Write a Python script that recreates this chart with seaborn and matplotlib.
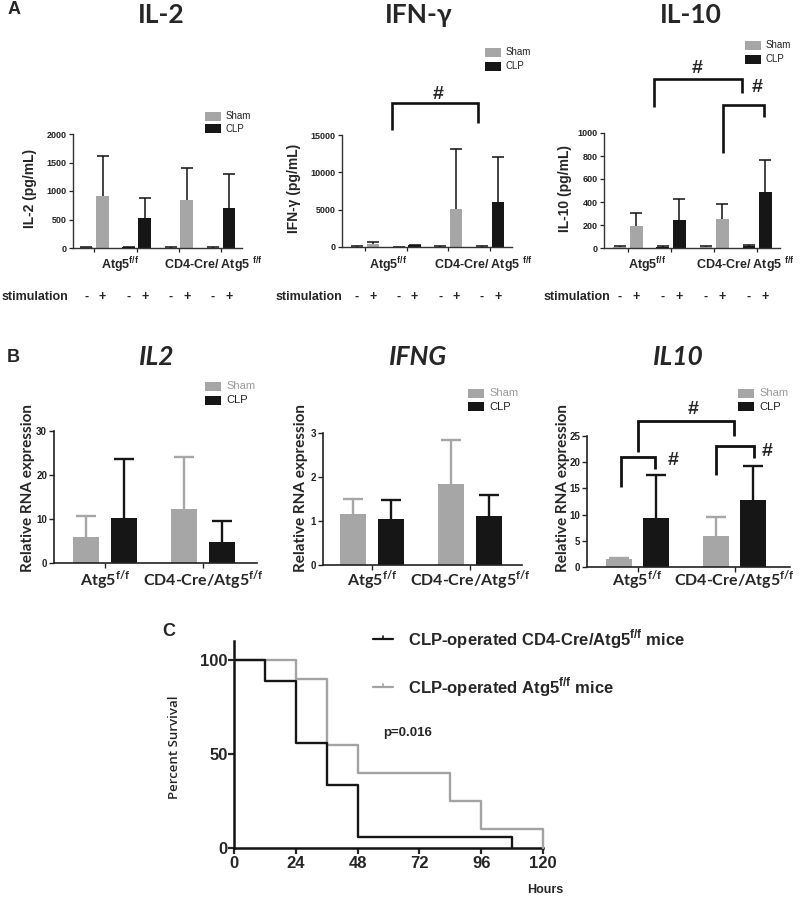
import numpy as np
import pandas as pd
import matplotlib
matplotlib.use('Agg')
import matplotlib.pyplot as plt
import seaborn as sns
from matplotlib.patches import Rectangle
from matplotlib.lines import Line2D
from matplotlib.transforms import blended_transform_factory

# ---------------- data ----------------
# Panel A: 4 groups (genotype x treatment), each unstimulated (-) / stimulated (+)
pair_labels = ['Atg5 Sham', 'Atg5 CLP', 'CD4-Cre Sham', 'CD4-Cre CLP']
stim_levels = ['-', '+']
group_labels_A = ['Atg5$^{\\mathregular{f/f}}$', 'CD4-Cre/ Atg5 $^{\\mathregular{f/f}}$']

il2_mean = [10, 912, 10, 535, 8, 848, 8, 702]
il2_err = [8, 700, 7, 335, 4, 547, 4, 593]
ifng_mean = [60, 420, 40, 240, 50, 5150, 50, 6000]
ifng_err = [30, 200, 20, 90, 20, 7950, 20, 6000]
il10_mean = [12, 188, 10, 243, 12, 248, 18, 487]
il10_err = [8, 120, 5, 182, 6, 137, 7, 276]

# Panel B: relative RNA expression
groups_B = ['Atg5$^{\\mathregular{f/f}}$', 'CD4-Cre/Atg5$^{\\mathregular{f/f}}$']
conditions = ['Sham', 'CLP']
rna_il2_sham, rna_il2_sham_err = [5.9, 12.3], [4.7, 11.9]
rna_il2_clp, rna_il2_clp_err = [10.2, 4.8], [13.4, 4.7]
rna_ifng_sham, rna_ifng_sham_err = [1.17, 1.83], [0.33, 1.0]
rna_ifng_clp, rna_ifng_clp_err = [1.05, 1.12], [0.42, 0.47]
rna_il10_sham, rna_il10_sham_err = [1.6, 5.95], [0.2, 3.5]
rna_il10_clp, rna_il10_clp_err = [9.3, 12.8], [8.2, 6.4]

# Panel C: Kaplan-Meier survival
ko_hours = [0, 12, 24, 36, 48, 108]
ko_surv = [100, 88.9, 55.6, 33.3, 5.6, 0]
wt_hours = [0, 24, 36, 48, 84, 96, 120]
wt_surv = [100, 90, 55, 40, 25, 10, 0]
legend_C = ['CLP-operated CD4-Cre/Atg5$^{\\mathregular{f/f}}$ mice',
            'CLP-operated Atg5$^{\\mathregular{f/f}}$ mice']
p_text = 'p=0.016'

# significance brackets: (x0, x1, top, y_left_end, y_right_end)
brackets_A_ifng = [(0.65, 2.71, 19300, 15670, 16600)]
hash_A_ifng = [(1.75, 20400)]
brackets_A_il10 = [(0.60, 2.65, 1470, 1226, 1348), (2.21, 3.16, 1243, 826, 1139)]
hash_A_il10 = [(1.6, 1557), (3.0, 1400)]
brackets_B_il10 = [(0.0, 0.99, 27.9, 21.9, 25.0), (-0.175, 0.175, 21.0, 15.3, 18.7),
                   (0.81, 1.2, 23.1, 17.6, 20.8)]
hash_B_il10 = [(0.57, 30.0), (0.37, 20.4), (1.33, 22.0)]

# ---------------- style ----------------
sns.set_style('ticks')
plt.rcParams['font.family'] = ['Liberation Sans', 'DejaVu Sans']
plt.rcParams['axes.linewidth'] = 1.0
GREY = '#a6a6a6'
BLACK = '#161616'
LATO = ['Lato', 'DejaVu Sans']
pair_colors = [GREY, BLACK, GREY, BLACK]

W, H = 800, 901
fig = plt.figure(figsize=(8, 9.01), dpi=100)


def rect(l, t, r, b):
    return [l / W, 1 - b / H, (r - l) / W, (b - t) / H]


def fy(y):
    return 1 - y / H


def upper_errorbar(ax, x, y, err, color, lw, cap):
    _, caps, _ = ax.errorbar(x, y, yerr=[np.zeros(len(err)), err], fmt='none',
                             ecolor=color, elinewidth=lw, capsize=cap, capthick=lw,
                             zorder=1)
    if len(caps) == 2:
        caps[0].remove()   # no cap at the bar top


def legend_box(lx, ly, dy, fs, sham_color):
    for k, (lab, col, tcol) in enumerate(zip(conditions, [GREY, BLACK], [sham_color, '#222222'])):
        y = ly + k * dy
        fig.add_artist(Rectangle((lx / W, fy(y + 4.5)), 16 / W, 9 / H,
                                 transform=fig.transFigure, facecolor=col, edgecolor='none'))
        fig.text((lx + 21) / W, fy(y), lab, ha='left', va='center', fontsize=fs, color=tcol)


def draw_brackets(ax, brackets, hashes, lw=1.9):
    for x0, x1, top, yl, yr in brackets:
        ax.plot([x0, x0, x1, x1], [yl, top, top, yr], color='#111111', lw=lw,
                clip_on=False, solid_joinstyle='miter', solid_capstyle='butt')
    for x, y in hashes:
        ax.text(x, y, '#', ha='center', va='center', fontsize=14, fontweight='bold',
                clip_on=False)


def panel_A(box, xlim, ylim, yticks, means, errs, ylabel, ylab_x, title, title_x,
            stim_right, grp_x, leg, brackets=(), hashes=()):
    ax = fig.add_axes(rect(*box))
    df = pd.DataFrame({'pair': np.repeat(pair_labels, 2), 'stim': stim_levels * 4,
                       'value': means})
    sns.barplot(data=df, x='pair', y='value', hue='stim', order=pair_labels,
                hue_order=stim_levels, width=0.76, gap=0.21, palette=[GREY, GREY],
                saturation=1, errorbar=None, legend=False, linewidth=0, ax=ax)
    for p in ax.patches:
        c = p.get_x() + p.get_width() / 2
        p.set_facecolor(pair_colors[int(round(c))])
    xs = np.array([i + d for i in range(4) for d in (-0.19, 0.19)])
    upper_errorbar(ax, xs, means, errs, '#111111', 1.1, 4.5)
    ax.set_xlim(*xlim)
    ax.set_ylim(*ylim)
    ax.set_yticks(yticks)
    ax.set_xticks(range(4))
    ax.set_xticklabels([])
    ax.set_xlabel('')
    ax.set_ylabel('')
    ax.tick_params(axis='both', length=3, width=0.9, pad=1.5, labelsize=6.5,
                   colors='#222222')
    for t in ax.get_yticklabels():
        t.set_fontweight('bold')
    sns.despine(ax=ax)
    for s in ('left', 'bottom'):
        ax.spines[s].set_color('#333333')
    fig.text(ylab_x / W, fy(188), ylabel, rotation=90, ha='center', va='center',
             fontsize=10, fontweight='bold')
    fig.text(title_x / W, fy(15), title, ha='center', va='center', fontsize=19,
             fontweight='bold', family=LATO)
    fig.text(stim_right / W, fy(297), 'stimulation', ha='right', va='center',
             fontsize=9, fontweight='bold')
    trans = blended_transform_factory(ax.transData, fig.transFigure)
    for x, s in zip(xs, stim_levels * 4):
        ax.text(x, fy(297), s, transform=trans, ha='center', va='center', fontsize=9,
                fontweight='bold')
    for gx, lab in zip(grp_x, group_labels_A):
        fig.text(gx / W, fy(265), lab, ha='center', va='center', fontsize=9,
                 fontweight='bold')
    legend_box(leg[0], leg[1], leg[2], 7, '#222222')
    draw_brackets(ax, brackets, hashes)
    return ax


def panel_B(box, xlim, ylim, yticks, sham, sham_err, clp, clp_err, title, title_x,
            ylab_x, leg, brackets=(), hashes=()):
    ax = fig.add_axes(rect(*box))
    df = pd.DataFrame({'genotype': groups_B * 2,
                       'condition': ['Sham'] * 2 + ['CLP'] * 2,
                       'value': sham + clp})
    sns.barplot(data=df, x='genotype', y='value', hue='condition', order=groups_B,
                hue_order=conditions, palette=[GREY, BLACK], width=0.76, gap=0.30,
                saturation=1, errorbar=None, legend=False, linewidth=0, ax=ax)
    xg = np.arange(2)
    upper_errorbar(ax, xg - 0.19, sham, sham_err, GREY, 1.7, 7)
    upper_errorbar(ax, xg + 0.19, clp, clp_err, BLACK, 1.7, 7)
    ax.set_xlim(*xlim)
    ax.set_ylim(*ylim)
    ax.set_yticks(yticks)
    ax.set_xticks(range(2))
    ax.set_xticklabels([])
    ax.set_xlabel('')
    ax.set_ylabel('')
    ax.tick_params(axis='both', length=3.5, width=1.0, pad=1.5, labelsize=7,
                   colors='#222222')
    for t in ax.get_yticklabels():
        t.set_fontweight('bold')
    sns.despine(ax=ax)
    for s in ('left', 'bottom'):
        ax.spines[s].set_linewidth(1.2)
        ax.spines[s].set_color('#222222')
    fig.text(ylab_x / W, fy(488), 'Relative RNA expression', rotation=90, ha='center',
             va='center', fontsize=11, fontweight='bold', family=LATO)
    fig.text(title_x / W, fy(357), title, ha='center', va='center', fontsize=19,
             fontweight='bold', style='italic', family=LATO)
    trans = blended_transform_factory(ax.transData, fig.transFigure)
    for x, lab in zip(xg, groups_B):
        ax.text(x, fy(580), lab, transform=trans, ha='center', va='center',
                fontsize=11.5, fontweight='bold', family=LATO)
    legend_box(leg[0], leg[1], 14, 8, '#9a9a9a')
    draw_brackets(ax, brackets, hashes, lw=2.0)
    return ax


# ---------------- panel A ----------------
panel_A((73, 134, 242, 248), (-0.51, 3.5), (0, 2000), [0, 500, 1000, 1500, 2000],
        il2_mean, il2_err, 'IL-2 (pg/mL)', 30, 'IL-2', 161, 68, (120, 213),
        (205, 116, 13))
panel_A((342, 135, 512, 247), (-0.55, 3.53), (0, 15000), [0, 5000, 10000, 15000],
        ifng_mean, ifng_err, 'IFN-γ (pg/mL)', 294, 'IFN-γ', 419, 342, (388, 483),
        (485, 52, 14), brackets_A_ifng, hash_A_ifng)
panel_A((604, 133, 780, 248), (-0.56, 3.53), (0, 1000), [0, 200, 400, 600, 800, 1000],
        il10_mean, il10_err, 'IL-10 (pg/mL)', 565, 'IL-10', 691, 610, (647, 745),
        (745, 45, 14), brackets_A_il10, hash_A_il10)

# ---------------- panel B ----------------
panel_B((54, 431, 257, 563), (-0.52, 1.55), (0, 30), [0, 10, 20, 30],
        rna_il2_sham, rna_il2_sham_err, rna_il2_clp, rna_il2_clp_err,
        'IL2', 157, 28, (205, 386))
panel_B((323, 433, 522, 565), (-0.5, 1.53), (0, 3), [0, 1, 2, 3],
        rna_ifng_sham, rna_ifng_sham_err, rna_ifng_clp, rna_ifng_clp_err,
        'IFNG', 418, 301, (468, 393))
panel_B((587, 436, 790, 567), (-0.52, 1.57), (0, 25), [0, 5, 10, 15, 20, 25],
        rna_il10_sham, rna_il10_sham_err, rna_il10_clp, rna_il10_clp_err,
        'IL10', 678, 563, (738, 393), brackets_B_il10, hash_B_il10)

# ---------------- panel C ----------------
axc = fig.add_axes(rect(234, 641, 543, 848))
sns.lineplot(x=ko_hours, y=ko_surv, drawstyle='steps-post', color=BLACK, lw=1.7,
             estimator=None, sort=False, ax=axc, clip_on=False, zorder=4)
sns.lineplot(x=wt_hours, y=wt_surv, drawstyle='steps-post', color='#a3a3a3', lw=1.7,
             estimator=None, sort=False, ax=axc, clip_on=False, zorder=3)
axc.set_xlim(0, 120)
axc.set_ylim(0, 110)
axc.set_xticks([0, 24, 48, 72, 96, 120])
axc.set_yticks([0, 50, 100])
axc.set_xlabel('')
axc.set_ylabel('')
axc.tick_params(axis='both', length=4, width=1.6, labelsize=12, pad=2)
axc.tick_params(axis='y', pad=0.5)
for t in axc.get_xticklabels() + axc.get_yticklabels():
    t.set_fontweight('bold')
sns.despine(ax=axc)
for s in ('left', 'bottom'):
    axc.spines[s].set_linewidth(1.8)
    axc.spines[s].set_color('#111111')
fig.text(175 / W, fy(747), 'Percent Survival', rotation=90, ha='center', va='center',
         fontsize=9.5, fontweight='semibold', family=['Open Sans', 'DejaVu Sans'])
fig.text(545 / W, fy(890), 'Hours', ha='center', va='center', fontsize=9,
         fontweight='bold')
for k, (lab, col) in enumerate(zip(legend_C, [BLACK, '#a3a3a3'])):
    y = 639 + k * 48
    fig.add_artist(Line2D([373 / W, 393 / W], [fy(y), fy(y)], color=col, lw=1.6,
                          transform=fig.transFigure))
    fig.add_artist(Line2D([383 / W, 383 / W], [fy(y), fy(y - 3.5)], color=col, lw=1.2,
                          transform=fig.transFigure))
    fig.text(408 / W, fy(y), lab, ha='left', va='center', fontsize=12, fontweight='bold')
fig.text(383 / W, fy(733), p_text, ha='left', va='center', fontsize=9.5,
         fontweight='bold')

# panel letters
fig.text(14 / W, fy(10), 'A', ha='center', va='center', fontsize=13, fontweight='bold')
fig.text(13 / W, fy(357), 'B', ha='center', va='center', fontsize=13, fontweight='bold')
fig.text(169 / W, fy(632), 'C', ha='center', va='center', fontsize=13, fontweight='bold')

fig.savefig('out.png', dpi=100)
